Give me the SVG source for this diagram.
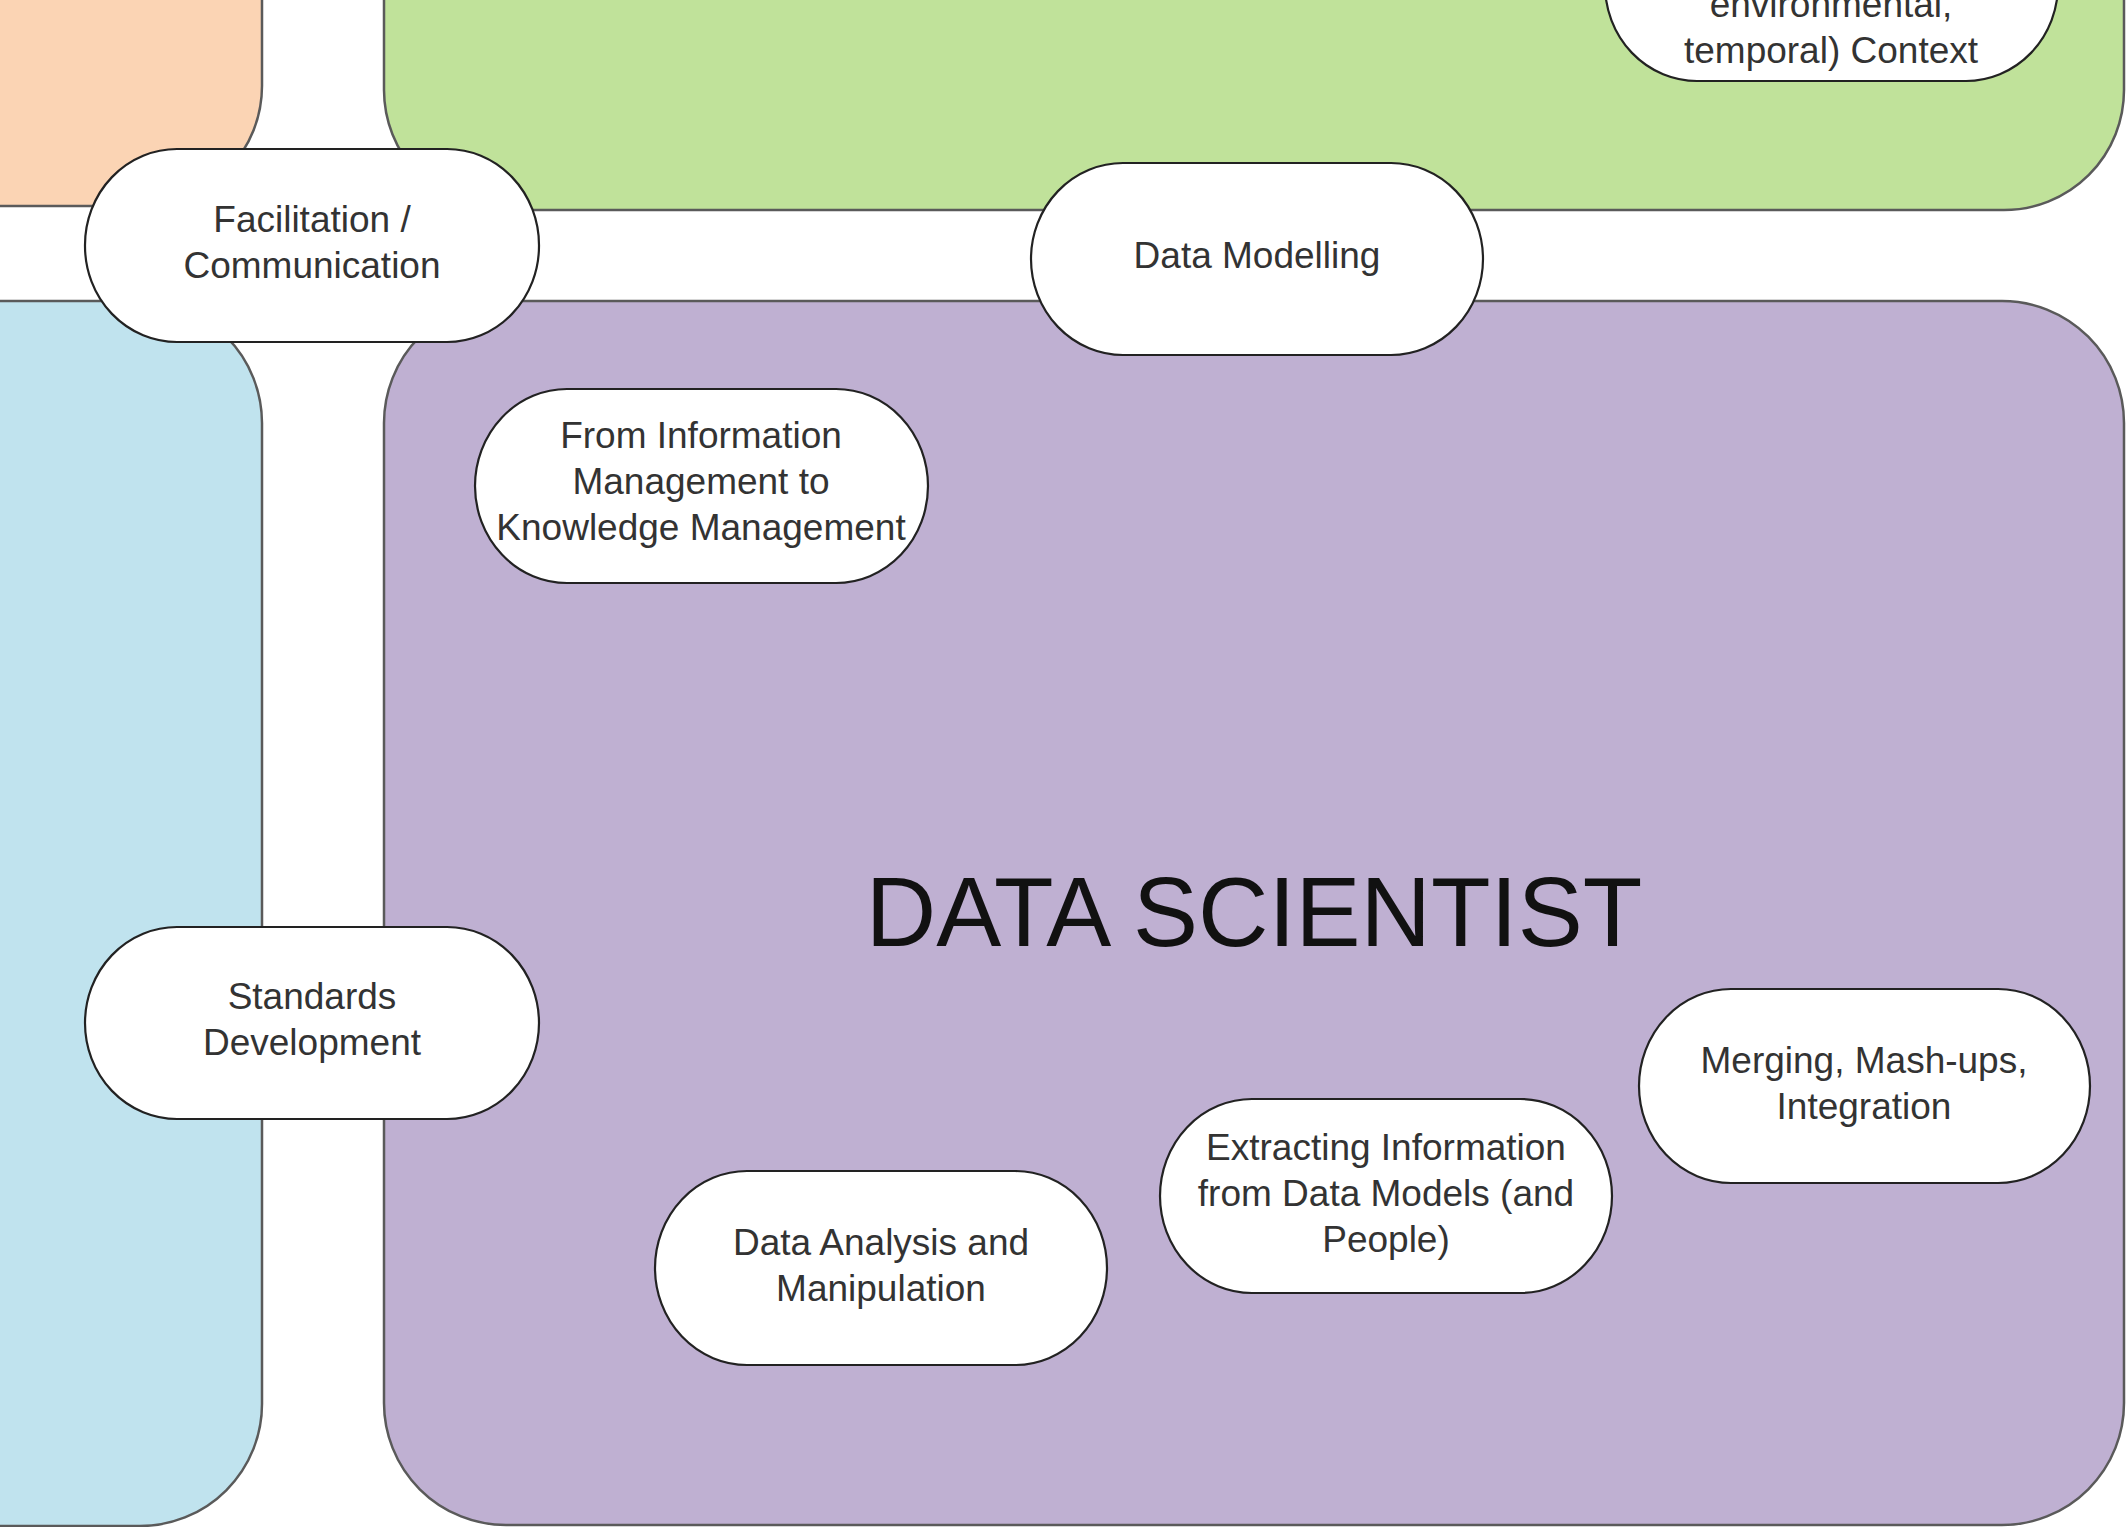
<svg xmlns="http://www.w3.org/2000/svg" width="2127" height="1527" viewBox="0 0 2127 1527">
<style>
.region{stroke:#5a5a5a;stroke-width:2.5}
.node rect{fill:#ffffff;stroke:#222222;stroke-width:2.2}
.node text{font-family:"Liberation Sans",Arial,sans-serif;font-size:37px;fill:#333333;text-anchor:middle}
.title{font-family:"Liberation Sans",Arial,sans-serif;font-size:97.5px;fill:#111111;text-anchor:middle}
</style>
<rect width="2127" height="1527" fill="#ffffff"/>
<g id="regions">
<rect id="orange" class="region" x="-200" y="-200" width="462" height="406" rx="120" ry="120" fill="#FBD4B4"/>
<rect id="green" class="region" x="384" y="-200" width="1740" height="410" rx="120" ry="120" fill="#C0E29A"/>
<rect id="blue" class="region" x="-200" y="301" width="462" height="1225" rx="122" ry="122" fill="#C0E3EE"/>
<rect id="purple" class="region" x="384" y="301" width="1740" height="1224" rx="122" ry="122" fill="#BFB0D2"/>
<text class="title" x="1254" y="946">DATA SCIENTIST</text>
</g>
<g id="connectors"></g>
<g id="node-context" class="node">
<rect x="1605" y="-112" width="453" height="193" rx="92" ry="96"/>
<text x="1831" y="17">environmental,</text>
<text x="1831" y="63">temporal) Context</text>
</g>
<g id="node-facilitation" class="node">
<rect x="85" y="149" width="454" height="193" rx="92" ry="96"/>
<text x="312" y="232">Facilitation /</text>
<text x="312" y="278">Communication</text>
</g>
<g id="node-datamodelling" class="node">
<rect x="1031" y="163" width="452" height="192" rx="92" ry="96"/>
<text x="1257" y="268">Data Modelling</text>
</g>
<g id="node-infomgmt" class="node">
<rect x="475" y="389" width="453" height="194" rx="92" ry="97"/>
<text x="701" y="448">From Information</text>
<text x="701" y="494">Management to</text>
<text x="701" y="540">Knowledge Management</text>
</g>
<g id="node-standards" class="node">
<rect x="85" y="927" width="454" height="192" rx="92" ry="96"/>
<text x="312" y="1009">Standards</text>
<text x="312" y="1055">Development</text>
</g>
<g id="node-analysis" class="node">
<rect x="655" y="1171" width="452" height="194" rx="92" ry="97"/>
<text x="881" y="1255">Data Analysis and</text>
<text x="881" y="1301">Manipulation</text>
</g>
<g id="node-extracting" class="node">
<rect x="1160" y="1099" width="452" height="194" rx="92" ry="97"/>
<text x="1386" y="1160">Extracting Information</text>
<text x="1386" y="1206">from Data Models (and</text>
<text x="1386" y="1252">People)</text>
</g>
<g id="node-merging" class="node">
<rect x="1639" y="989" width="451" height="194" rx="92" ry="97"/>
<text x="1864" y="1073">Merging, Mash-ups,</text>
<text x="1864" y="1119">Integration</text>
</g>
</svg>
